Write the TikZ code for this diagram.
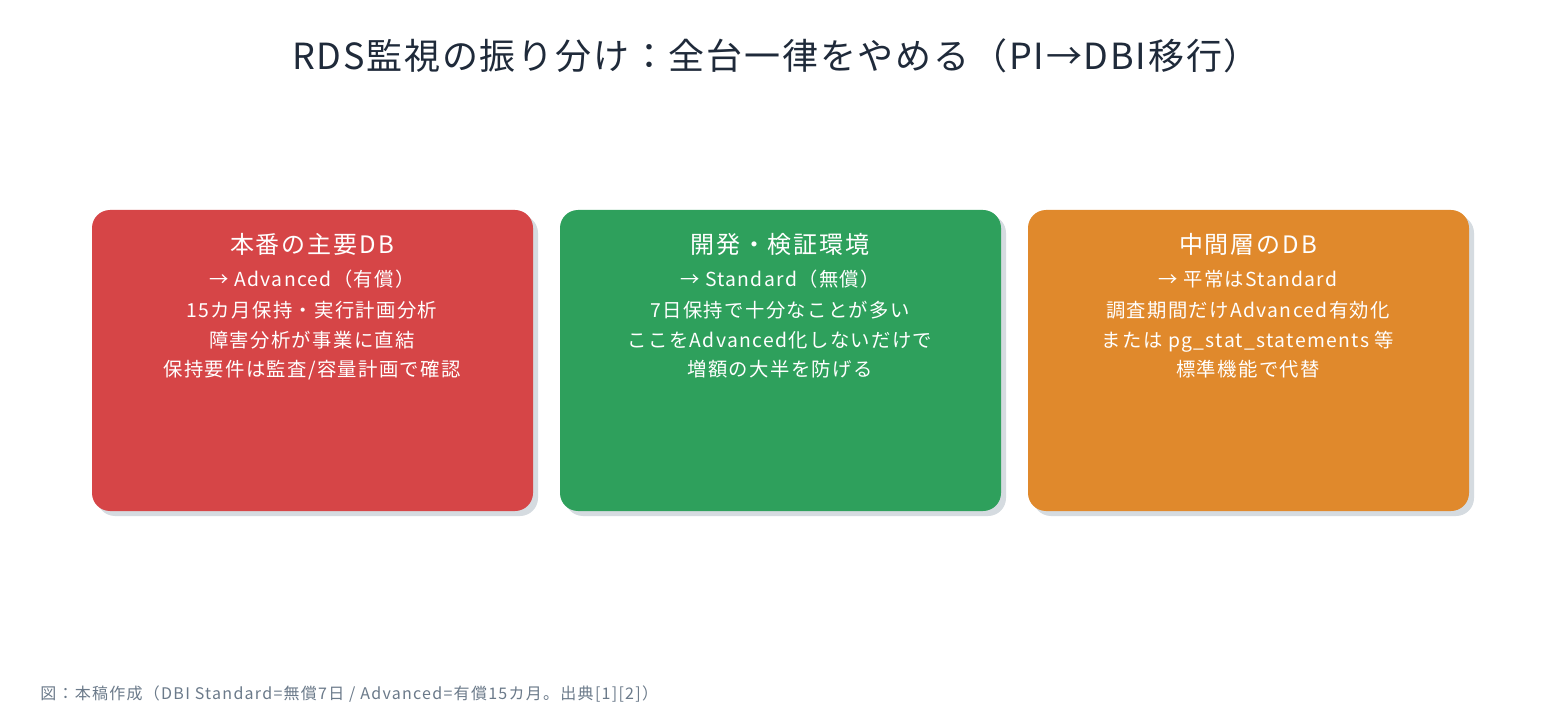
\documentclass[tikz,border=0pt]{standalone}
\usepackage{fontspec}
\setmainfont{Noto Sans CJK JP}
\newfontfamily\spaced[LetterSpace=7]{Noto Sans CJK JP}
\newfontfamily\spacedt[LetterSpace=5]{Noto Sans CJK JP}
\newfontfamily\spacedh[LetterSpace=8]{Noto Sans CJK JP}
\newfontfamily\spacedf[LetterSpace=8]{Noto Sans CJK JP}
\definecolor{titlec}{HTML}{1F2A3A}
\definecolor{redc}{HTML}{D64547}
\definecolor{greenc}{HTML}{2EA05C}
\definecolor{orangec}{HTML}{E0892C}
\definecolor{shadowc}{HTML}{D5DBE0}
\definecolor{footc}{HTML}{6B7A8A}
\begin{document}
\begin{tikzpicture}[x=0.75pt,y=-0.75pt,
  card/.style={rounded corners=13.5pt},
  cardtitle/.style={text=white,anchor=base,inner sep=0pt,font=\spacedh\fontsize{18}{22}\selectfont},
  cardline/.style={text=white,anchor=base,inner sep=0pt,font=\spaced\fontsize{14.5}{17}\selectfont}]
\useasboundingbox[fill=white] (0,0) rectangle (1560,720);
\node[anchor=base,inner sep=0pt,text=titlec,font=\spacedt\fontsize{27}{32}\selectfont] (title) at (776,70) {RDS監視の振り分け：全台一律をやめる（PI→DBI移行）};
% cards
\foreach \x/\c/\n in {92/redc/a,560/greenc/b,1028/orangec/c}{
  \fill[shadowc,card] (\x+5,215) rectangle (\x+446,516);
  \fill[\c,card] (\x,210) rectangle (\x+441,511);
}
\node[cardtitle] (at) at (312,254) {本番の主要DB};
\node[cardline] (a1) at (312,287) {→ Advanced（有償）};
\node[cardline] (a2) at (312,317) {15カ月保持・実行計画分析};
\node[cardline] (a3) at (312,347) {障害分析が事業に直結};
\node[cardline] (a4) at (312,376) {保持要件は監査/容量計画で確認};
\node[cardtitle] (bt) at (780,254) {開発・検証環境};
\node[cardline] (b1) at (780,287) {→ Standard（無償）};
\node[cardline] (b2) at (780,317) {7日保持で十分なことが多い};
\node[cardline] (b3) at (780,347) {ここをAdvanced化しないだけで};
\node[cardline] (b4) at (780,376) {増額の大半を防げる};
\node[cardtitle] (ct) at (1248,254) {中間層のDB};
\node[cardline] (c1) at (1248,287) {→ 平常はStandard};
\node[cardline] (c2) at (1248,317) {調査期間だけAdvanced有効化};
\node[cardline] (c3) at (1248,347) {または pg\_stat\_statements 等};
\node[cardline] (c4) at (1248,376) {標準機能で代替};
\node[anchor=base west,inner sep=0pt,text=footc,font=\spacedf\fontsize{12}{14}\selectfont] (foot) at (40,699) {図：本稿作成（DBI Standard=無償7日 / Advanced=有償15カ月。出典[1][2]）};
\end{tikzpicture}
\end{document}
